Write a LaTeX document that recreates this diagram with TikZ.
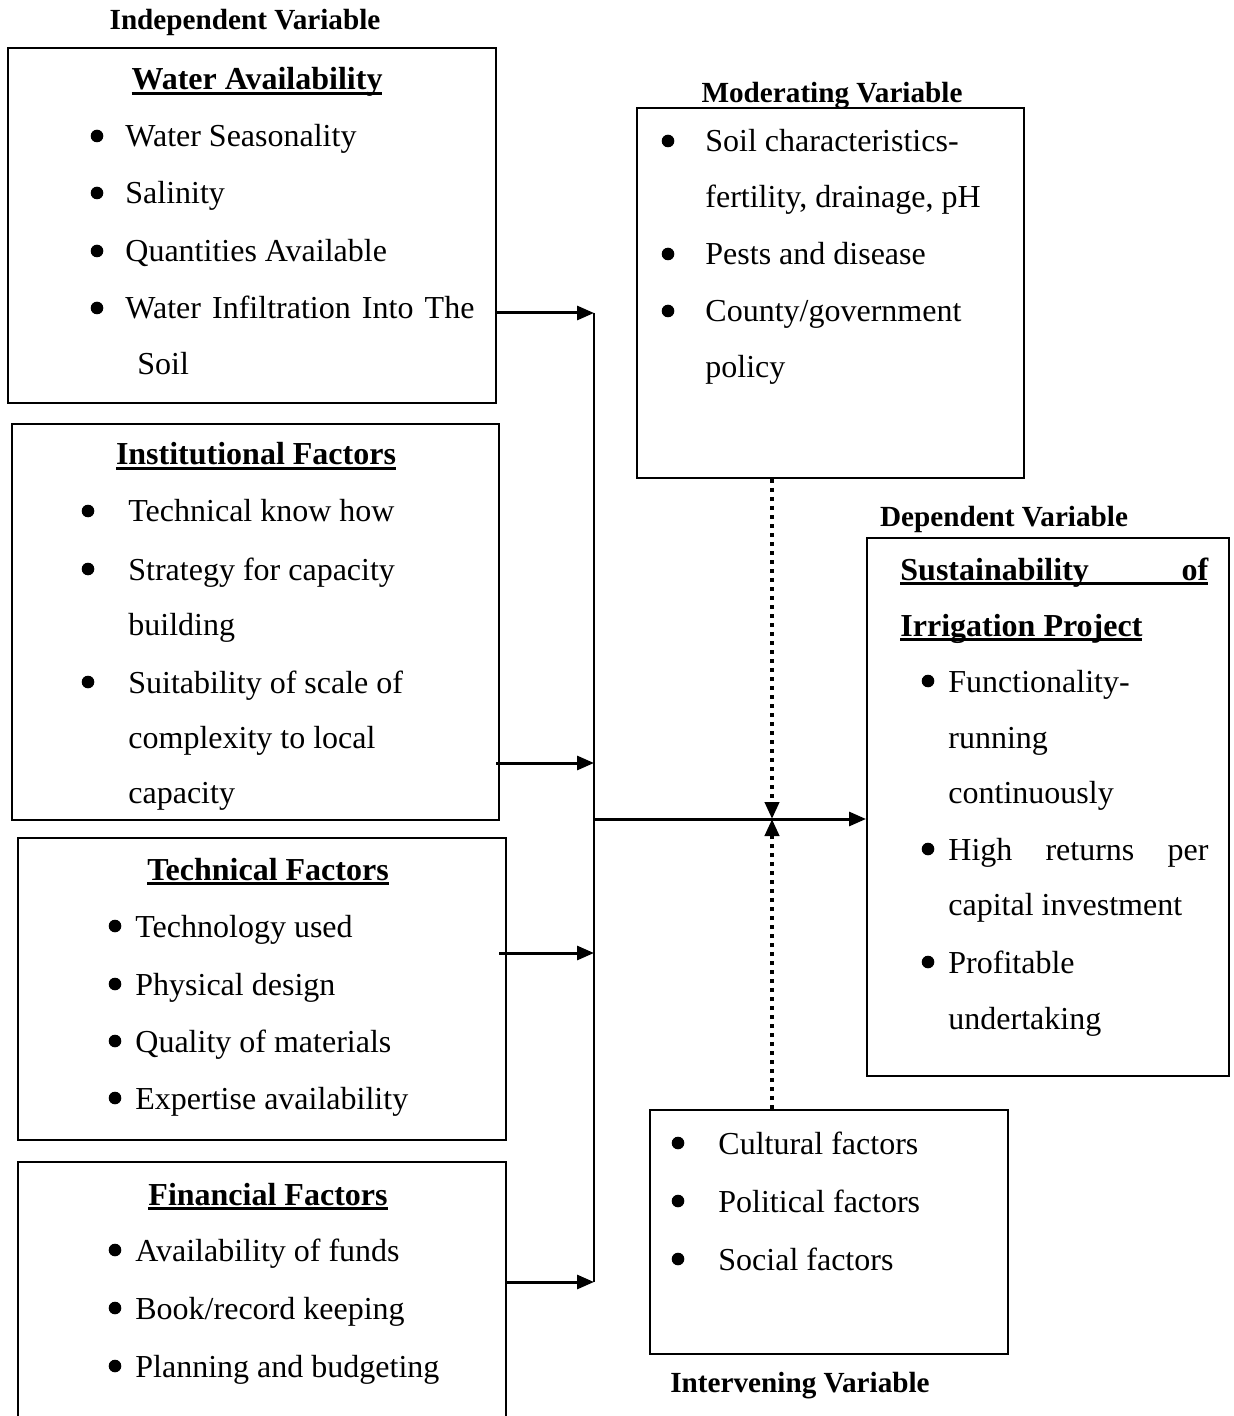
\documentclass[tikz,border=0pt]{standalone}
\usepackage{fontspec}
\setmainfont{Liberation Serif}
\usetikzlibrary{arrows.meta}
\newcommand\ulx[1]{\setbox0\hbox{#1}\rlap{\rule[-2.4pt]{\wd0}{1.3pt}}\box0}
\begin{document}
\begin{tikzpicture}[x=0.5pt,y=-0.5pt,
  bx/.style={draw,line width=1pt,inner sep=0,rectangle},
  txt/.style={anchor=base west,inner sep=0,yshift=-0.5pt,font=\fontsize{16}{19}\selectfont},
  ttl/.style={anchor=base,inner sep=0,yshift=-0.5pt,font=\fontsize{16}{19}\selectfont\bfseries},
  hd/.style={anchor=base,inner sep=0,yshift=-1pt,font=\fontsize{14.6}{17}\selectfont\bfseries},
  bul/.style={circle,fill,inner sep=0,minimum size=6.3pt,yshift=5pt},
  arr/.style={line width=1.5pt,-{Triangle[length=8.5pt,width=7pt]}},
  trunk/.style={line width=1pt},
  dot/.style={line width=2pt,dash pattern=on 2pt off 2.5pt,-{Triangle[length=8.5pt,width=7pt]}}]
\useasboundingbox (0,0) rectangle (1234,1416);
% boxes
\node[bx,minimum width=244pt,minimum height=177.5pt] (wa) at (252,225.5) {};
\node[bx,minimum width=243.5pt,minimum height=198pt] (inst) at (255.5,622) {};
\node[bx,minimum width=244pt,minimum height=151pt] (tech) at (262,989) {};
\node[bx,minimum width=244pt,minimum height=139pt] (fin) at (262,1301) {};
\node[bx,minimum width=193.5pt,minimum height=185pt] (mod) at (830.5,293) {};
\node[bx,minimum width=181pt,minimum height=269pt] (dep) at (1048,807) {};
\node[bx,minimum width=179pt,minimum height=122pt] (inter) at (829,1232) {};
% headings
\node[hd] (h1) at (245,28) {Independent Variable};
\node[hd] (h2) at (832,101) {Moderating Variable};
\node[hd] (h3) at (1004,524) {Dependent Variable};
\node[hd] (h4) at (800,1390) {Intervening Variable};
% water availability
\node[ttl] (waT) at (257,89) {\ulx{Water Availability}};
\node[bul] (wab1) at (97,146) {};
\node[txt] (wa1) at (125,146) {Water Seasonality};
\node[bul] (wab2) at (97,203) {};
\node[txt] (wa2) at (125,203) {Salinity};
\node[bul] (wab3) at (97,261) {};
\node[txt] (wa3) at (125,261) {Quantities Available};
\node[bul] (wab4) at (97,318) {};
\node[txt] (wa4) at (125,318) {\makebox[174.5pt][s]{Water Infiltration Into The}};
\node[txt] (wa5) at (137,374) {Soil};
% institutional
\node[ttl] (inT) at (256,464) {\ulx{Institutional Factors}};
\node[bul] (inb1) at (88,521) {};
\node[txt] (in1) at (128,521) {Technical know how};
\node[bul] (inb2) at (88,579) {};
\node[txt] (in2) at (128,579) {Strategy for capacity};
\node[txt] (in3) at (128,634) {building};
\node[bul] (inb3) at (88,692) {};
\node[txt] (in4) at (128,692) {Suitability of scale of};
\node[txt] (in5) at (128,747) {complexity to local};
\node[txt] (in6) at (128,802) {capacity};
% technical
\node[ttl] (teT) at (268,879) {\ulx{Technical Factors}};
\node[bul] (teb1) at (115,936) {};
\node[txt] (te1) at (135,936) {Technology used};
\node[bul] (teb2) at (115,994) {};
\node[txt] (te2) at (135,994) {Physical design};
\node[bul] (teb3) at (115,1051) {};
\node[txt] (te3) at (135,1051) {Quality of materials};
\node[bul] (teb4) at (115,1108) {};
\node[txt] (te4) at (135,1108) {Expertise availability};
% financial
\node[ttl] (fiT) at (268,1204) {\ulx{Financial Factors}};
\node[bul] (fib1) at (115,1260) {};
\node[txt] (fi1) at (135,1260) {Availability of funds};
\node[bul] (fib2) at (115,1318) {};
\node[txt] (fi2) at (135,1318) {Book/record keeping};
\node[bul] (fib3) at (115,1376) {};
\node[txt] (fi3) at (135,1376) {Planning and budgeting};
% moderating
\node[bul] (mob1) at (668,151) {};
\node[txt] (mo1) at (705,151) {Soil characteristics-};
\node[txt] (mo2) at (705,207) {fertility, drainage, pH};
\node[bul] (mob2) at (668,264) {};
\node[txt] (mo3) at (705,264) {Pests and disease};
\node[bul] (mob3) at (668,321) {};
\node[txt] (mo4) at (705,321) {County/government};
\node[txt] (mo5) at (705,377) {policy};
% dependent
\node[txt,font=\fontsize{16}{19}\selectfont\bfseries] (deT1) at (900,579) {\ulx{\makebox[154pt][s]{Sustainability of}}};
\node[txt,font=\fontsize{16}{19}\selectfont\bfseries] (deT2) at (900,635) {\ulx{Irrigation Project}};
\node[bul] (deb1) at (928,691) {};
\node[txt] (de1) at (948,691) {Functionality-};
\node[txt] (de2) at (948,747) {running};
\node[txt] (de3) at (948,802) {continuously};
\node[bul] (deb2) at (928,859) {};
\node[txt] (de4) at (948,859) {\makebox[130pt][s]{High returns per}};
\node[txt] (de5) at (948,914) {capital investment};
\node[bul] (deb3) at (928,972) {};
\node[txt] (de6) at (948,972) {Profitable};
\node[txt] (de7) at (948,1028) {undertaking};
% intervening
\node[bul] (itb1) at (678,1153) {};
\node[txt] (it1) at (718,1153) {Cultural factors};
\node[bul] (itb2) at (678,1211) {};
\node[txt] (it2) at (718,1211) {Political factors};
\node[bul] (itb3) at (678,1269) {};
\node[txt] (it3) at (718,1269) {Social factors};
% connectors
\coordinate (j1) at (594,313);
\coordinate (j2) at (594,763);
\coordinate (j3) at (594,953);
\coordinate (j4) at (594,1282);
\coordinate (jm) at (594,819);
\coordinate (cx) at (772,819);
\draw[trunk] (j1) -- (j4);
\draw[arr] (wa.east |- j1) -- (j1);
\draw[arr] ([xshift=-2pt]inst.east |- j2) -- (j2);
\draw[arr] ([xshift=-4pt]tech.east |- j3) -- (j3);
\draw[arr] (fin.east |- j4) -- (j4);
\draw[arr] (jm) -- (dep.west |- jm);
\draw[dot] (mod.south -| cx) -- (cx);
\draw[dot] (inter.north -| cx) -- (cx);
\end{tikzpicture}
\end{document}
